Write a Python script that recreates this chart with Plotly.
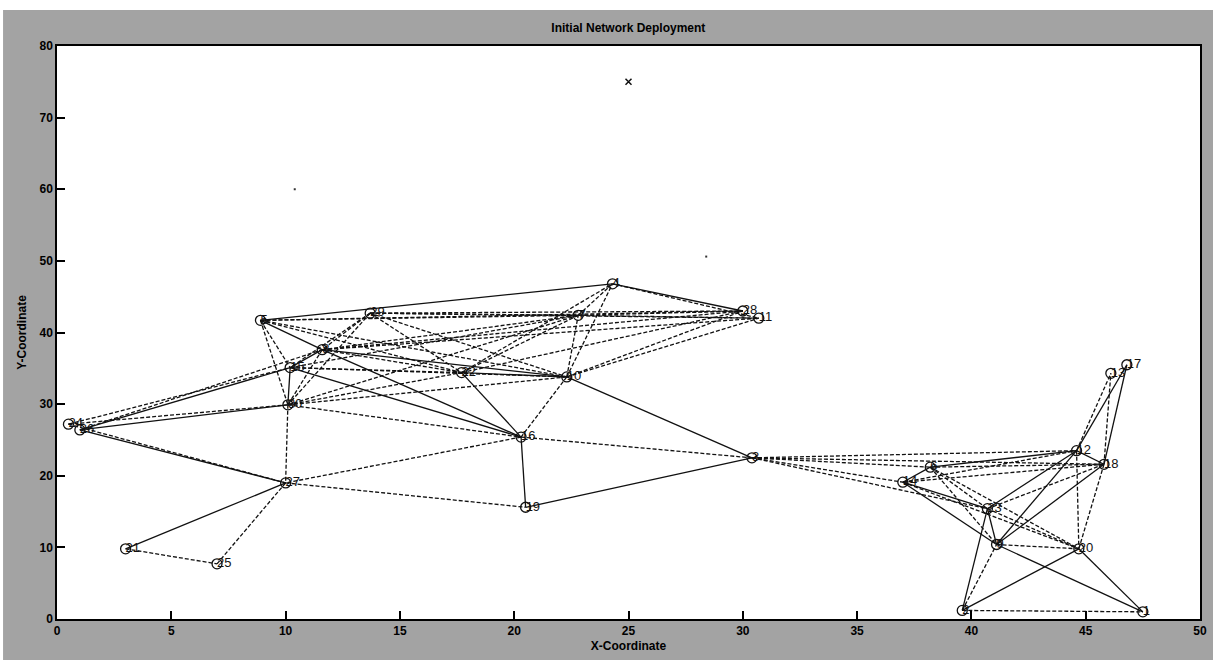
import plotly.graph_objects as go

# ---------------- data ----------------
node_ids = list(range(1, 31))
node_x = [47.5, 39.6, 30.4, 24.3, 8.9, 38.2, 22.8, 11.6, 41.1, 22.3,
          30.7, 44.6, 46.1, 37.0, 10.2, 20.3, 46.8, 45.8, 20.5, 44.7,
          3.0, 17.7, 40.7, 0.5, 7.0, 1.0, 10.0, 30.0, 13.7, 10.1]
node_y = [1.0, 1.2, 22.5, 46.8, 41.7, 21.2, 42.4, 37.6, 10.4, 33.8,
          42.0, 23.5, 34.3, 19.1, 35.1, 25.4, 35.5, 21.6, 15.6, 9.8,
          9.8, 34.4, 15.4, 27.2, 7.7, 26.4, 19.0, 43.0, 42.7, 29.9]

solid_edges = [(21, 27), (26, 27), (26, 30), (26, 15), (5, 4), (5, 8), (8, 16),
               (8, 10), (8, 15), (15, 16), (15, 30), (22, 10), (22, 16), (10, 3),
               (16, 19), (19, 3), (4, 28), (14, 6), (6, 12), (14, 23), (14, 9),
               (23, 12), (9, 12), (9, 18), (12, 18), (18, 17), (2, 23), (2, 20),
               (9, 1), (20, 1), (23, 9), (12, 17)]
dashed_edges = [(21, 25), (25, 27), (24, 15), (26, 8), (24, 30), (24, 27),
                (5, 28), (5, 7), (5, 15), (5, 30), (5, 22), (5, 10),
                (29, 28), (29, 11), (29, 22), (29, 10), (29, 15), (29, 30),
                (29, 8), (29, 7), (8, 7), (8, 28), (8, 11), (8, 22), (8, 30),
                (15, 22), (15, 10), (15, 7), (30, 27), (30, 22), (30, 10),
                (30, 16), (30, 7), (22, 7), (22, 4), (22, 28), (10, 16),
                (10, 7), (10, 4), (10, 28), (10, 11), (7, 4), (7, 28), (7, 11),
                (4, 11), (16, 3), (16, 27), (27, 19), (3, 6), (3, 14), (3, 12),
                (3, 18), (3, 23), (12, 13), (18, 13), (14, 12), (6, 18),
                (14, 18), (6, 23), (6, 9), (14, 20), (6, 20), (23, 18),
                (23, 20), (9, 20), (12, 20), (18, 20), (2, 9), (2, 1)]

sink_x = [25.0]
sink_y = [75.0]
dot_x = [10.4, 28.4]
dot_y = [60.0, 50.6]

x_ticks = [0, 5, 10, 15, 20, 25, 30, 35, 40, 45, 50]
y_ticks = [0, 10, 20, 30, 40, 50, 60, 70, 80]


def edge_coords(edges):
    xs, ys = [], []
    for a, b in edges:
        xs += [node_x[a - 1], node_x[b - 1], None]
        ys += [node_y[a - 1], node_y[b - 1], None]
    return xs, ys


fig = go.Figure()
sx, sy = edge_coords(solid_edges)
dx, dy = edge_coords(dashed_edges)
fig.add_trace(go.Scatter(x=dx, y=dy, mode="lines",
                         line=dict(color="#111", width=1.3, dash="4px,2px"),
                         hoverinfo="skip", showlegend=False))
fig.add_trace(go.Scatter(x=sx, y=sy, mode="lines",
                         line=dict(color="#111", width=1.3),
                         hoverinfo="skip", showlegend=False))
fig.add_trace(go.Scatter(x=node_x, y=node_y, mode="markers",
                         marker=dict(symbol="circle-open", size=10, color="#111",
                                     line=dict(color="#111", width=1.3)),
                         showlegend=False))
fig.add_trace(go.Scatter(x=node_x, y=node_y, mode="text",
                         text=[str(i) for i in node_ids],
                         textposition="middle right",
                         textfont=dict(family="Liberation Sans", size=13, color="#111"),
                         showlegend=False))
fig.add_trace(go.Scatter(x=sink_x, y=sink_y, mode="markers",
                         marker=dict(symbol="x-thin-open", size=6, color="#111",
                                     line=dict(color="#111", width=1.5)),
                         showlegend=False))
fig.add_trace(go.Scatter(x=dot_x, y=dot_y, mode="markers",
                         marker=dict(symbol="square", size=2, color="#333"),
                         showlegend=False))

axis_common = dict(showgrid=False, zeroline=False, showline=True,
                   linecolor="black", linewidth=1.5, mirror=True,
                   ticks="inside", ticklen=8, tickwidth=1.5, tickcolor="black",
                   automargin=False,
                   tickfont=dict(family="Liberation Sans", size=12,
                                 color="black", weight="bold"))

fig.update_xaxes(range=[0, 50], tickvals=x_ticks, **axis_common,
                 title=dict(text="X-Coordinate", standoff=4,
                            font=dict(family="Liberation Sans Narrow, Liberation Sans",
                                      size=12, color="black", weight="bold")))
fig.update_yaxes(range=[0, 80], tickvals=y_ticks, **axis_common,
                 title=dict(text="Y-Coordinate", standoff=10,
                            font=dict(family="Liberation Sans Narrow, Liberation Sans",
                                      size=12, color="black", weight="bold")))

fig.update_layout(
    width=1213, height=660,
    margin=dict(l=57, r=13, t=46, b=41, autoexpand=False),
    paper_bgcolor="#a3a3a3", plot_bgcolor="white",
    title=dict(text="Initial Network Deployment", x=0.518, xanchor="center",
               y=0.958, yanchor="middle",
               font=dict(family="Liberation Sans Narrow, Liberation Sans",
                         size=12, color="black", weight="bold")),
    shapes=[
        dict(type="rect", xref="paper", yref="paper", x0=-0.06, x1=1.02,
             y0=1.0628, y1=1.1, fillcolor="white", line_width=0, layer="below"),
        dict(type="rect", xref="paper", yref="paper", x0=-0.06, x1=-0.0472,
             y0=-0.1, y1=1.1, fillcolor="white", line_width=0, layer="below"),
    ],
)

fig.write_html("out.html", config={"displayModeBar": False},
               post_script="document.body.style.margin='0';document.body.style.overflow='hidden';")
